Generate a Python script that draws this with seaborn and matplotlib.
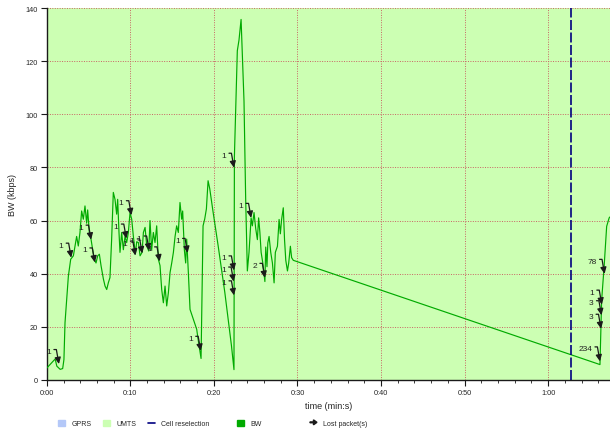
import matplotlib
matplotlib.use("Agg")
import numpy as np
import pandas as pd
import seaborn as sns
import matplotlib.pyplot as plt
from matplotlib.patches import Patch, FancyArrow
from matplotlib.lines import Line2D
from matplotlib.legend_handler import HandlerPatch
from matplotlib.ticker import MultipleLocator, FuncFormatter


# bandwidth trace (seconds, kbps)
time_s = [0.0, 1.0, 1.2, 1.6, 1.9, 2.05, 2.18, 2.58, 2.86, 3.18, 3.38, 3.57, 3.77, 3.97,
          4.17, 4.37, 4.57, 4.77, 4.89, 5.09, 5.29, 5.49, 5.69, 5.89, 6.09, 6.29, 6.49,
          6.77, 6.97, 7.17, 7.37, 7.56, 7.76, 7.96, 8.16, 8.36, 8.48, 8.64, 8.76, 8.96,
          9.16, 9.36, 9.56, 9.76, 9.96, 10.16, 10.36, 10.6, 10.76, 10.96, 11.16, 11.4,
          11.56, 11.76, 11.96, 12.2, 12.35, 12.55, 12.75, 12.95, 13.15, 13.35, 13.55,
          13.75, 13.95, 14.15, 14.35, 14.55, 14.75, 14.95, 15.15, 15.35, 15.54, 15.74,
          15.94, 16.14, 16.26, 16.46, 16.62, 16.74, 16.94, 17.14, 17.54, 17.94, 18.1,
          18.46, 18.7, 18.9, 19.1, 19.3, 19.5, 19.9, 20.5, 21.3, 22.1, 22.4, 22.45,
          22.8, 23.0, 23.25, 23.6, 23.8, 24.0, 24.2, 24.45, 24.6, 24.8, 25.0, 25.2,
          25.35, 25.5, 25.65, 25.85, 26.1, 26.2, 26.35, 26.45, 26.6, 26.8, 27.0, 27.2,
          27.35, 27.6, 27.8, 27.95, 28.1, 28.3, 28.45, 28.6, 28.8, 28.95, 29.15, 29.3,
          29.5, 66.2, 66.4, 66.7, 67.0, 67.3, 67.6]
bw_kbps = [4.4, 7.8, 5.1, 3.9, 4.2, 7.6, 21.5, 39, 45.4, 46.7, 50.4, 54, 50.4, 55.5,
           63.6, 60.5, 65.5, 59, 64, 55.5, 53, 49, 45.4, 44, 46.7, 47.3, 43,
           38, 35.3, 34, 36.6, 38.5, 53, 70.6, 68, 62.4, 68, 55.5, 48, 55.5,
           49, 54, 51.7, 55.5, 63, 60.5, 54, 47.5, 52, 51.7, 46.7, 48,
           55.5, 57.4, 50.4, 48.5, 60, 49, 55.5, 51.7, 58, 45.4, 43,
           34, 29, 35.3, 27.8, 32.8, 40.4, 44, 48, 54, 58, 55.5,
           66.8, 60.5, 63.6, 49, 44, 53, 40.4, 26.5, 22.8, 19, 15.4,
           8, 58, 60.6, 64.4, 75, 72, 63.2, 50.6, 33, 12.8, 3.8, 84,
           124, 128, 135.8, 105, 68, 41, 48, 61, 58, 63, 57, 52.8,
           61, 55.6, 48, 44, 37, 50, 42.6, 51.6, 54, 48, 44, 36.5,
           48, 50.3, 60.4, 55, 60.4, 64.8, 52.8, 45, 41, 44, 50.3, 46,
           45, 5.7, 30, 42.8, 57.8, 61, 62]

# lost packets: where they happened and how many
loss_time = [1.45, 2.92, 5.3, 5.75, 9.52, 10.12, 10.6, 11.42, 12.25, 13.5, 16.85, 18.42,
             22.4, 22.4, 22.36, 22.4, 24.45, 26.1, 66.75, 66.42, 66.38, 66.33, 66.2]
loss_bw = [5.9, 46.0, 52.8, 44.2, 53.2, 62.0, 46.8, 47.6, 48.7, 44.6, 47.8, 10.9,
           79.9, 41.2, 37.0, 31.8, 61.0, 38.4, 39.9, 28.3, 24.3, 19.2, 6.9]
loss_count = ['1', '1', '1', '1', '1', '1', '1', '1', '1', '1', '1', '1',
              '1', '1', '1', '1', '1', '2', '78', '1', '3', '3', '234']

cell_reselection = [62.75]
umts_period = (0.0, 67.4)

gprs_color = '#b4c8f8'
umts_color = '#ccffb3'
bw_color = '#00aa00'
resel_color = '#000080'


sns.set_theme(style='ticks')
plt.rcParams['font.family'] = ['Liberation Sans', 'DejaVu Sans']

fig = plt.figure(figsize=(6.1, 4.31), dpi=100)
ax = fig.add_axes([46.8 / 610, 1 - 380.7 / 431, (610 - 46.8) / 610, (380.7 - 9.3) / 431])

ax.axvspan(*umts_period, color=umts_color, lw=0, zorder=0)
ax.grid(True, which='major', color='#c86464', linestyle=(0, (1, 1.5)), lw=0.7, zorder=1)
ax.set_axisbelow(True)

df = pd.DataFrame({'time': time_s, 'bw': bw_kbps})
sns.lineplot(data=df, x='time', y='bw', color=bw_color, lw=0.85, estimator=None,
             sort=False, ax=ax, zorder=3)

for t in cell_reselection:
    ax.axvline(t, color=resel_color, ls=(0, (6, 1.5)), lw=1.2, zorder=4)

for t, v, n in zip(loss_time, loss_bw, loss_count):
    ax.annotate('', xy=(t, v), xytext=(-5, 14.5), textcoords='offset pixels',
                arrowprops=dict(arrowstyle='-|>,head_length=0.38,head_width=0.18',
                                connectionstyle='angle,angleA=0,angleB=100,rad=0',
                                color='k', lw=0.9, shrinkA=0, shrinkB=0,
                                mutation_scale=10), zorder=5)
    ax.annotate(n, xy=(t, v), xytext=(-8, 12.5), textcoords='offset pixels',
                ha='right', va='center', fontsize=6, color='#222222', zorder=5)

ax.set_xlim(0, 67.4)
ax.set_ylim(0, 140)
ax.xaxis.set_major_locator(MultipleLocator(10))
ax.xaxis.set_minor_locator(MultipleLocator(2))
ax.xaxis.set_major_formatter(FuncFormatter(lambda s, p: f"{int(s) // 60}:{int(s) % 60:02d}"))
ax.yaxis.set_major_locator(MultipleLocator(20))
ax.tick_params(axis='both', which='major', labelsize=5.3, length=4, width=0.8,
               direction='out', color='k', pad=2.5)
ax.tick_params(axis='x', which='minor', length=2, width=0.6, color='k')
for side in ['top', 'right']:
    ax.spines[side].set_visible(False)
for side in ['left', 'bottom']:
    ax.spines[side].set_color('k')
    ax.spines[side].set_linewidth(1.0)
ax.set_xlabel('time (min:s)', fontsize=6.5, labelpad=4)
ax.set_ylabel('BW (kbps)', fontsize=6.5, labelpad=6)


def arrow_handle(legend, orig_handle, xdescent, ydescent, width, height, fontsize):
    return FancyArrow(0, height / 2, width, 0, width=0.6, head_width=height * 0.8,
                      head_length=width * 0.5, length_includes_head=True, color='k')


leg_kw = dict(loc='center left', frameon=False, fontsize=5, handlelength=1.0,
              handleheight=1.0, handletextpad=0.9, borderpad=0, borderaxespad=0)

leg1 = fig.legend(handles=[Patch(color=gprs_color), Patch(color=umts_color),
                           Line2D([], [], color=resel_color, lw=1.2)],
                  labels=['GPRS', 'UMTS', 'Cell reselection'], ncol=3,
                  columnspacing=1.7, bbox_to_anchor=(58 / 610, 0.0146), **leg_kw)
leg2 = fig.legend(handles=[Patch(color=bw_color)], labels=['BW'],
                  bbox_to_anchor=(237 / 610, 0.0146), **leg_kw)
lost_handle = Patch(color='k')
leg3 = fig.legend(handles=[lost_handle], labels=['Lost packet(s)'],
                  handler_map={lost_handle: HandlerPatch(patch_func=arrow_handle)},
                  bbox_to_anchor=(310 / 610, 0.0146), **leg_kw)

fig.savefig('out.png', dpi=100)
